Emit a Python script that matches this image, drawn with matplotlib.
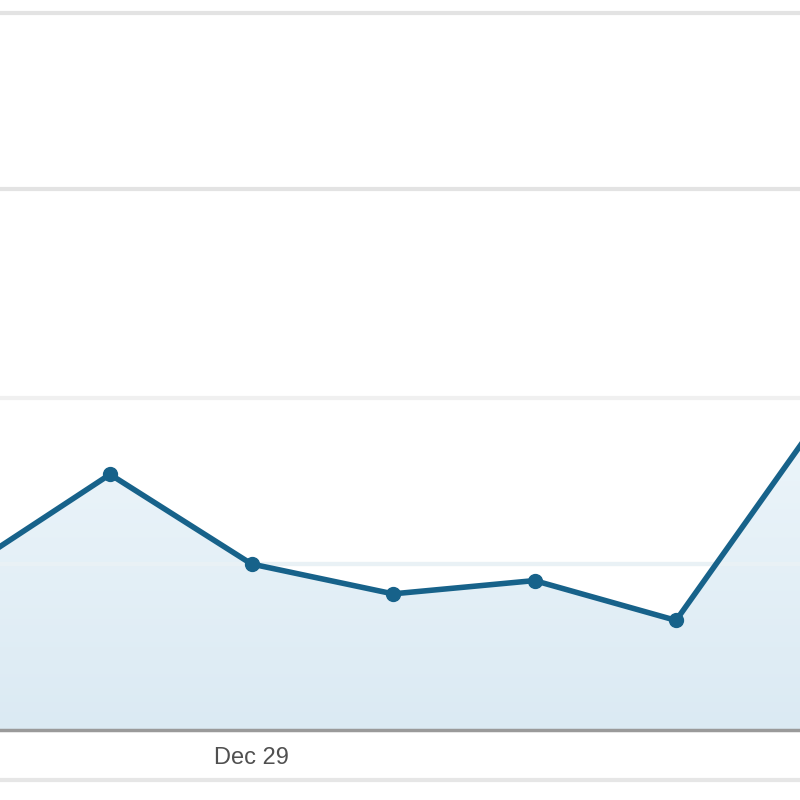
import matplotlib
matplotlib.use("Agg")
import matplotlib.pyplot as plt
import numpy as np

# daily visits, Dec 27 .. Jan 2 (chart is cropped at both sides)
days = [0, 1, 2, 3, 4, 5, 6]
visits = [49, 77, 50, 41, 45, 33, 93]
tick_pos = [2]
tick_labels = ["Dec 29"]
grid_vals = [50, 100, 163, 216]

line_col = "#17628a"

fig = plt.figure(figsize=(8, 8), dpi=100)
ax = fig.add_axes([0, 0, 1, 1])

ax.set_xlim(0.2226, 5.876)
ax.set_ylim(-21.1, 219.9)

# grid lines
for i, g in enumerate(grid_vals):
    c = "#f0f0f0" if i < 2 else "#e3e3e3"
    ax.axhline(g, color=c, lw=3, zorder=0)

# area under the line, light gradient clipped to the polygon
poly = ax.fill_between(days, visits, 0, color="#e4f0f7", zorder=1)
grad = np.linspace(0, 1, 256).reshape(-1, 1)
from matplotlib.colors import LinearSegmentedColormap
cmap = LinearSegmentedColormap.from_list("g", ["#dbeaf3", "#eef6fb"])
im = ax.imshow(grad, extent=[0, 6, 0, 100], origin="lower", aspect="auto",
               cmap=cmap, zorder=1.2)
im.set_clip_path(poly.get_paths()[0], transform=ax.transData)
ax.set_xlim(0.2226, 5.876)
ax.set_ylim(-21.1, 219.9)
ax.axhline(50, color="#e9f1f5", lw=3, zorder=1.5)

ax.axhline(0, color="#9a9a9a", lw=2.5, zorder=2)
ax.axhline(-15, color="#e6e6e6", lw=3, zorder=0)

ax.plot(days, visits, color=line_col, lw=4, marker="o", markersize=10,
        markeredgecolor=line_col, solid_joinstyle="round", zorder=3)

for p, lab in zip(tick_pos, tick_labels):
    ax.text(p, -5.0, lab, ha="center", va="top", fontsize=17,
            color="#505050", family="Liberation Sans")

ax.axis("off")
fig.savefig("out.png", dpi=100)
